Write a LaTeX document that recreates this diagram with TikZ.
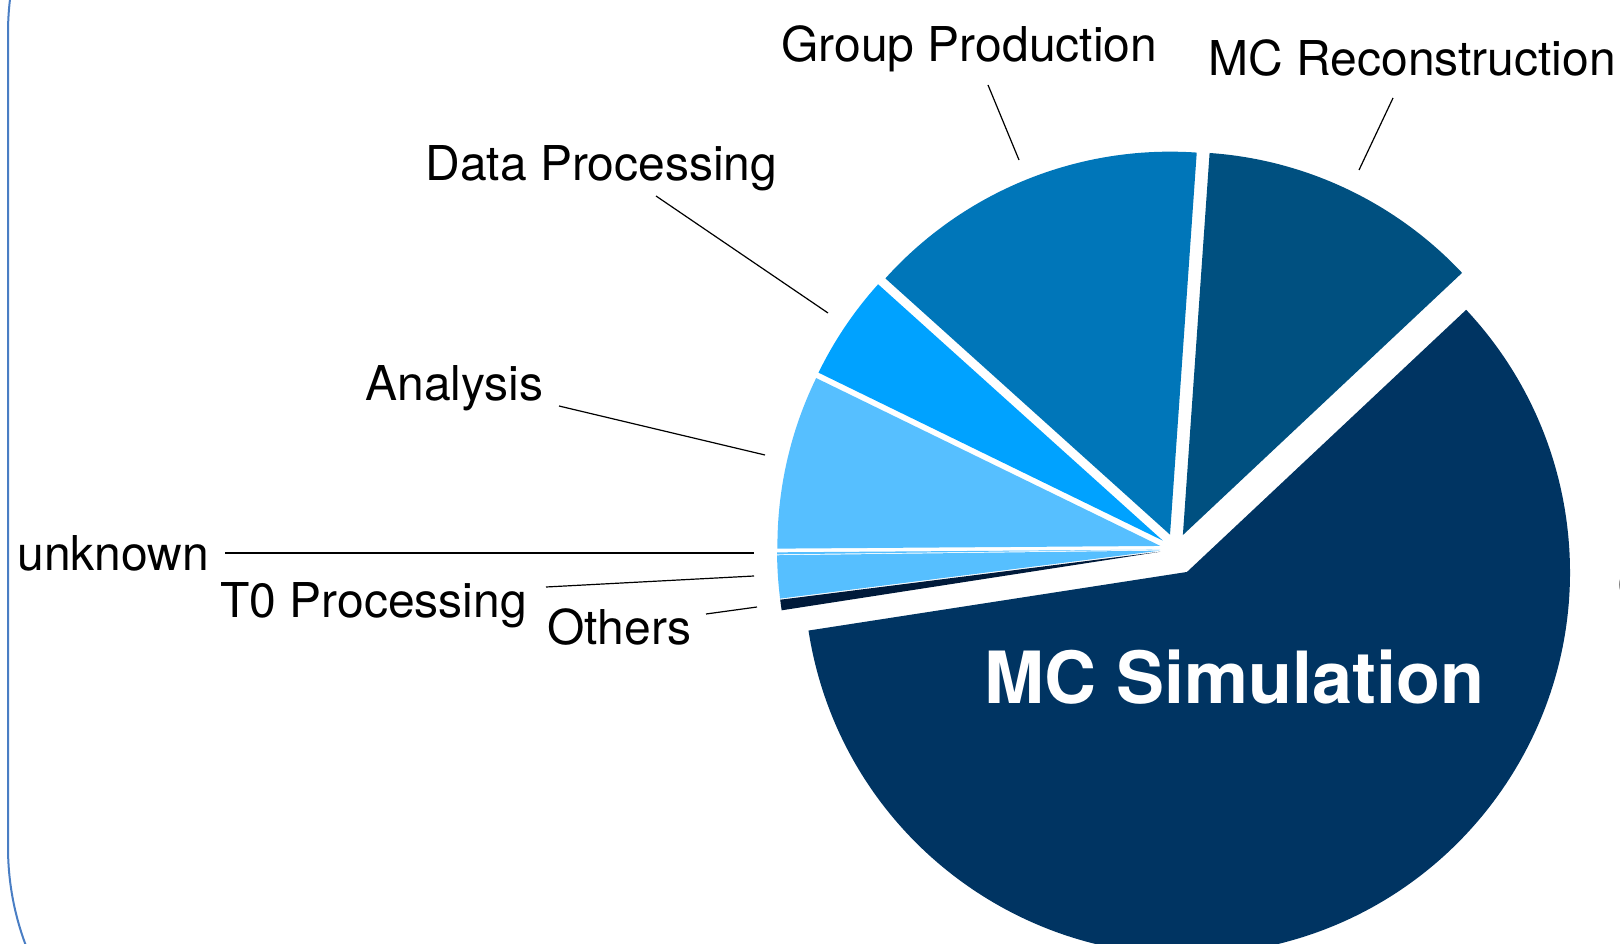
\documentclass[tikz,border=0pt]{standalone}
\usepackage{fontspec}
\setmainfont{TeX Gyre Heros}
\usetikzlibrary{calc}

\definecolor{mcsim}{RGB}{0,52,98}
\definecolor{mcreco}{RGB}{0,80,128}
\definecolor{grpprod}{RGB}{0,118,185}
\definecolor{dataproc}{RGB}{0,162,255}
\definecolor{anablue}{RGB}{86,191,255}
\definecolor{othnavy}{RGB}{0,26,58}
\definecolor{framecol}{RGB}{74,126,196}

\tikzset{
	leader/.style={black, line width=0.6pt},
	lbl/.style={anchor=base west, inner sep=0pt, font=\fontsize{24}{28}\selectfont},
}

\begin{document}
\begin{tikzpicture}[x=0.5pt, y=0.5pt]
	\useasboundingbox (0,0) rectangle (1620,943);
	\coordinate (c0) at (1176,393.5);

	% frame, mostly off the page
	\draw[framecol, line width=1pt, rounded corners=139.5pt] (8,1189) rectangle (2400,-183);

	% slices: start/end/explode/colour
	\foreach \a/\b/\d/\col in {-171.2/43.2/25/mcsim, 43.2/86/16/mcreco, 86/138/16/grpprod,
		138/154/16/dataproc, 154/180.4/16/anablue, 180.4/180.7/16/anablue,
		180.7/187.2/16/anablue, 187.2/188.8/16/othnavy}{
		\pgfmathsetmacro\m{(\a+\b)/2}
		\fill[\col] ($(c0)+(\m:\d)$) -- ++(\a:383) arc[start angle=\a, end angle=\b, radius=383] -- cycle;
	}

	\node[lbl] (grp) at (781,881) {Group Production};
	\node[lbl] (reco) at (1208,867) {MC Reconstruction};
	\node[lbl] (dproc) at (425,762) {Data Processing};
	\node[lbl] (ana) at (365,542) {Analysis};
	\node[lbl] (unk) at (17,372) {unknown};
	\node[lbl] (tzero) at (220,326) {T0 Processing};
	\node[lbl] (oth) at (547,299) {Others};
	\node[lbl, white, font=\fontsize{36}{40}\selectfont\bfseries] (sim) at (984,240) {MC Simulation};
	\node[lbl, anchor=west] (cut) at (1616,358) {(};

	\coordinate (grp-a) at (988,858);   \coordinate (grp-b) at (1019,783);
	\coordinate (reco-a) at (1393,845); \coordinate (reco-b) at (1359,773);
	\coordinate (dproc-a) at (656,747); \coordinate (dproc-b) at (828,630);
	\coordinate (ana-a) at (559,537);   \coordinate (ana-b) at (765,488);
	\coordinate (unk-a) at (225,390);   \coordinate (unk-b) at (754,390);
	\coordinate (tzero-a) at (546,356); \coordinate (tzero-b) at (754,367);
	\coordinate (oth-a) at (706,329);   \coordinate (oth-b) at (757,336);

	\foreach \n in {grp, reco, dproc, ana, unk, tzero, oth}
		\draw[leader] (\n-a) -- (\n-b);
\end{tikzpicture}
\end{document}
